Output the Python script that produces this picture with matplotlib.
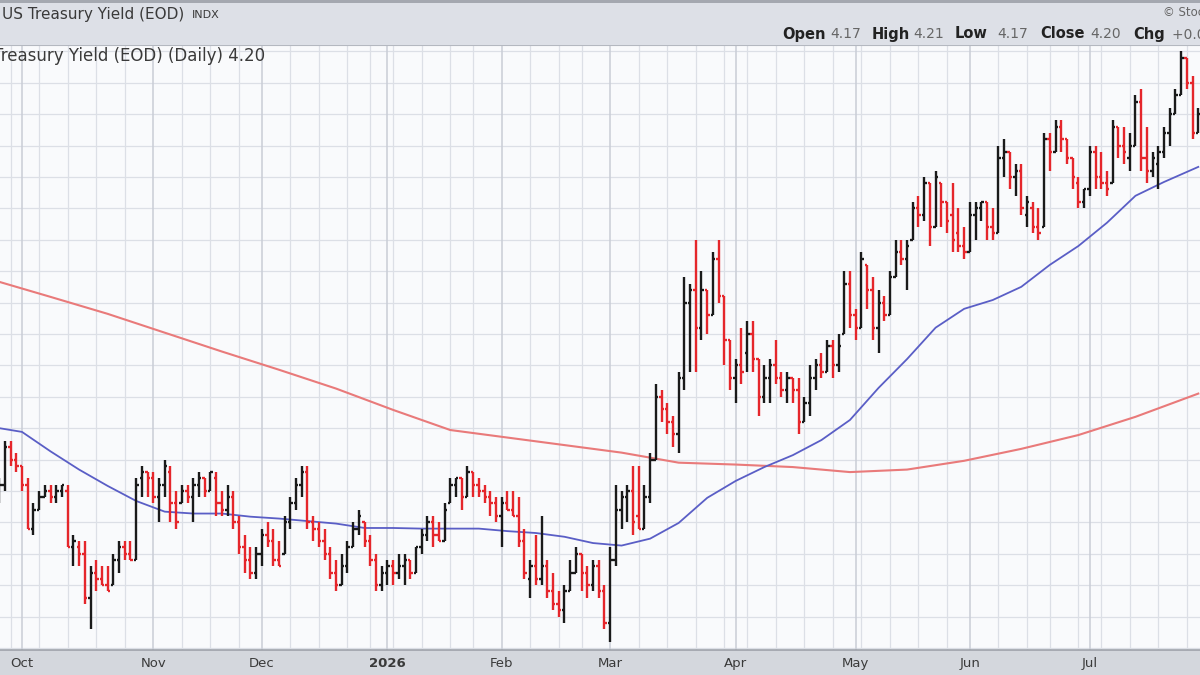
import matplotlib
matplotlib.use("Agg")
import matplotlib.pyplot as plt
from matplotlib.collections import LineCollection
from matplotlib.patches import Rectangle
import pandas as pd

W, H = 1200, 675

HOLIDAYS = ["2025-11-27", "2025-12-25", "2026-01-01", "2026-01-19",
            "2026-02-16", "2026-04-03", "2026-05-25", "2026-06-19", "2026-07-03"]
dates = pd.bdate_range("2025-09-25", "2026-07-29", freq="C", holidays=HOLIDAYS)

# daily OHLC (yield, %)
opens = [
    3.59, 3.61, 3.67, 3.65, 3.64, 3.61, 3.54, 3.57, 3.59, 3.60,
    3.59, 3.60, 3.60, 3.51, 3.51, 3.50, 3.43, 3.47, 3.46, 3.45,
    3.45, 3.49, 3.51, 3.50, 3.49, 3.62, 3.63, 3.62, 3.59, 3.61,
    3.63, 3.58, 3.58, 3.60, 3.59, 3.61, 3.62, 3.60, 3.62, 3.58,
    3.57, 3.59, 3.55, 3.51, 3.49, 3.47, 3.50, 3.53, 3.52, 3.49,
    3.50, 3.55, 3.58, 3.61, 3.63, 3.55, 3.54, 3.52, 3.50, 3.47,
    3.45, 3.48, 3.51, 3.54, 3.55, 3.52, 3.49, 3.45, 3.47, 3.48,
    3.47, 3.48, 3.49, 3.47, 3.51, 3.53, 3.55, 3.53, 3.52, 3.58,
    3.61, 3.62, 3.59, 3.63, 3.61, 3.60, 3.59, 3.58, 3.56, 3.58,
    3.57, 3.56, 3.52, 3.46, 3.48, 3.46, 3.48, 3.44, 3.42, 3.41,
    3.44, 3.47, 3.50, 3.47, 3.45, 3.48, 3.44, 3.39, 3.49, 3.57,
    3.59, 3.60, 3.56, 3.54, 3.59, 3.65, 3.75, 3.73, 3.71, 3.69,
    3.78, 3.90, 3.92, 3.86, 3.92, 3.88, 3.97, 3.91, 3.84, 3.78,
    3.80, 3.82, 3.85, 3.81, 3.75, 3.78, 3.80, 3.78, 3.76, 3.78,
    3.76, 3.71, 3.74, 3.78, 3.80, 3.79, 3.83, 3.80, 3.85, 3.93,
    3.88, 3.86, 3.96, 3.92, 3.86, 3.90, 3.88, 3.94, 3.98, 3.97,
    4.00, 4.05, 4.04, 4.09, 4.02, 4.09, 4.06, 4.04, 4.01, 3.99,
    3.98, 4.04, 4.05, 4.06, 4.02, 4.01, 4.13, 4.14, 4.10, 4.11,
    4.04, 4.05, 4.02, 4.02, 4.16, 4.14, 4.18, 4.16, 4.13, 4.09,
    4.06, 4.08, 4.14, 4.10, 4.09, 4.09, 4.18, 4.15, 4.13, 4.15,
    4.22, 4.13, 4.11, 4.12, 4.14, 4.17, 4.20, 4.23, 4.29, 4.25,
    4.17,
]
highs = [
    3.62, 3.68, 3.68, 3.66, 3.64, 3.62, 3.58, 3.60, 3.61, 3.61,
    3.61, 3.61, 3.61, 3.53, 3.52, 3.52, 3.48, 3.49, 3.48, 3.48,
    3.50, 3.52, 3.52, 3.52, 3.62, 3.64, 3.63, 3.63, 3.62, 3.65,
    3.64, 3.60, 3.61, 3.61, 3.62, 3.63, 3.62, 3.63, 3.63, 3.60,
    3.61, 3.60, 3.56, 3.53, 3.51, 3.51, 3.54, 3.55, 3.54, 3.52,
    3.56, 3.59, 3.62, 3.64, 3.64, 3.56, 3.55, 3.54, 3.51, 3.49,
    3.50, 3.52, 3.55, 3.57, 3.55, 3.53, 3.50, 3.48, 3.49, 3.49,
    3.50, 3.50, 3.49, 3.51, 3.54, 3.56, 3.56, 3.55, 3.58, 3.62,
    3.62, 3.62, 3.64, 3.63, 3.62, 3.61, 3.60, 3.59, 3.59, 3.60,
    3.60, 3.59, 3.54, 3.49, 3.53, 3.56, 3.49, 3.47, 3.44, 3.45,
    3.49, 3.51, 3.50, 3.48, 3.49, 3.49, 3.45, 3.51, 3.61, 3.60,
    3.61, 3.64, 3.64, 3.61, 3.66, 3.77, 3.76, 3.74, 3.72, 3.79,
    3.94, 3.93, 4.00, 3.95, 3.92, 3.98, 4.00, 3.91, 3.84, 3.81,
    3.86, 3.87, 3.87, 3.81, 3.80, 3.81, 3.84, 3.79, 3.79, 3.78,
    3.78, 3.75, 3.80, 3.81, 3.82, 3.84, 3.84, 3.85, 3.95, 3.95,
    3.89, 3.98, 3.96, 3.94, 3.92, 3.91, 3.95, 4.00, 4.00, 4.00,
    4.06, 4.07, 4.10, 4.09, 4.11, 4.09, 4.06, 4.09, 4.05, 4.02,
    4.06, 4.06, 4.06, 4.06, 4.05, 4.15, 4.16, 4.14, 4.12, 4.12,
    4.07, 4.06, 4.05, 4.17, 4.17, 4.19, 4.19, 4.16, 4.13, 4.10,
    4.08, 4.15, 4.15, 4.14, 4.11, 4.19, 4.18, 4.18, 4.17, 4.23,
    4.24, 4.18, 4.14, 4.15, 4.18, 4.21, 4.24, 4.30, 4.29, 4.26,
    4.21,
]
lows = [
    3.58, 3.60, 3.64, 3.63, 3.60, 3.54, 3.53, 3.57, 3.59, 3.58,
    3.58, 3.59, 3.51, 3.48, 3.48, 3.42, 3.38, 3.44, 3.45, 3.44,
    3.45, 3.47, 3.49, 3.49, 3.49, 3.59, 3.59, 3.58, 3.55, 3.59,
    3.55, 3.54, 3.58, 3.58, 3.55, 3.59, 3.59, 3.60, 3.56, 3.56,
    3.56, 3.54, 3.50, 3.47, 3.46, 3.46, 3.48, 3.51, 3.48, 3.48,
    3.50, 3.54, 3.57, 3.59, 3.54, 3.52, 3.51, 3.49, 3.46, 3.44,
    3.45, 3.47, 3.51, 3.53, 3.51, 3.48, 3.44, 3.44, 3.45, 3.45,
    3.46, 3.45, 3.46, 3.47, 3.50, 3.52, 3.51, 3.52, 3.52, 3.58,
    3.59, 3.57, 3.59, 3.59, 3.59, 3.58, 3.56, 3.55, 3.51, 3.57,
    3.56, 3.51, 3.46, 3.43, 3.45, 3.45, 3.43, 3.41, 3.40, 3.39,
    3.44, 3.47, 3.44, 3.43, 3.44, 3.43, 3.38, 3.36, 3.48, 3.54,
    3.55, 3.53, 3.54, 3.54, 3.58, 3.65, 3.71, 3.69, 3.67, 3.66,
    3.76, 3.79, 3.79, 3.84, 3.85, 3.88, 3.90, 3.80, 3.76, 3.74,
    3.77, 3.79, 3.79, 3.72, 3.74, 3.74, 3.77, 3.75, 3.74, 3.74,
    3.69, 3.71, 3.72, 3.76, 3.78, 3.79, 3.78, 3.79, 3.85, 3.86,
    3.84, 3.86, 3.89, 3.84, 3.82, 3.87, 3.88, 3.94, 3.96, 3.92,
    4.00, 4.02, 4.03, 3.99, 4.02, 4.02, 4.01, 3.98, 3.98, 3.97,
    3.98, 4.00, 4.03, 4.00, 4.00, 4.01, 4.10, 4.08, 4.07, 4.04,
    4.02, 4.01, 4.00, 4.02, 4.11, 4.14, 4.14, 4.12, 4.08, 4.05,
    4.05, 4.07, 4.08, 4.08, 4.07, 4.09, 4.13, 4.12, 4.11, 4.15,
    4.11, 4.09, 4.10, 4.08, 4.13, 4.15, 4.20, 4.23, 4.24, 4.16,
    4.17,
]
closes = [
    3.61, 3.67, 3.65, 3.64, 3.61, 3.54, 3.57, 3.59, 3.60, 3.59,
    3.60, 3.61, 3.51, 3.52, 3.50, 3.43, 3.47, 3.46, 3.45, 3.44,
    3.49, 3.51, 3.50, 3.49, 3.61, 3.63, 3.62, 3.59, 3.61, 3.64,
    3.58, 3.55, 3.60, 3.59, 3.61, 3.62, 3.60, 3.63, 3.58, 3.57,
    3.59, 3.55, 3.51, 3.49, 3.47, 3.50, 3.53, 3.52, 3.49, 3.48,
    3.55, 3.58, 3.61, 3.63, 3.55, 3.54, 3.52, 3.50, 3.47, 3.45,
    3.48, 3.51, 3.54, 3.56, 3.52, 3.49, 3.45, 3.47, 3.48, 3.47,
    3.48, 3.49, 3.47, 3.51, 3.53, 3.55, 3.53, 3.52, 3.57, 3.61,
    3.62, 3.59, 3.63, 3.61, 3.60, 3.59, 3.58, 3.56, 3.58, 3.57,
    3.56, 3.52, 3.47, 3.48, 3.46, 3.48, 3.44, 3.42, 3.41, 3.44,
    3.47, 3.50, 3.47, 3.45, 3.48, 3.44, 3.39, 3.49, 3.57, 3.59,
    3.60, 3.55, 3.54, 3.59, 3.65, 3.75, 3.73, 3.71, 3.69, 3.78,
    3.90, 3.92, 3.86, 3.92, 3.88, 3.97, 3.91, 3.84, 3.78, 3.80,
    3.79, 3.85, 3.81, 3.75, 3.78, 3.80, 3.78, 3.76, 3.78, 3.76,
    3.71, 3.74, 3.78, 3.80, 3.79, 3.83, 3.80, 3.83, 3.93, 3.88,
    3.86, 3.97, 3.92, 3.86, 3.90, 3.88, 3.94, 3.98, 3.97, 3.99,
    4.05, 4.04, 4.09, 4.02, 4.10, 4.06, 4.03, 4.00, 3.99, 3.98,
    4.04, 4.05, 4.06, 4.02, 4.01, 4.13, 4.14, 4.10, 4.11, 4.05,
    4.06, 4.02, 4.01, 4.16, 4.14, 4.18, 4.16, 4.13, 4.10, 4.06,
    4.08, 4.14, 4.10, 4.09, 4.08, 4.18, 4.15, 4.14, 4.15, 4.22,
    4.13, 4.11, 4.13, 4.14, 4.17, 4.20, 4.23, 4.29, 4.25, 4.17,
    4.20,
]

# moving averages at bar positions
ma50_pos = [0, 4, 9, 14, 19, 24, 29, 34, 39, 44, 49, 54, 59, 64, 69, 74, 79, 84, 89, 94,
            99, 104, 109, 114, 119, 124, 129, 134, 139, 144, 149, 154, 159, 164, 169, 174,
            179, 184, 189, 194, 199, 204, 210]
ma50 = [3.700, 3.694, 3.663, 3.634, 3.608, 3.584, 3.567, 3.564, 3.564, 3.559, 3.556, 3.552,
        3.548, 3.541, 3.541, 3.540, 3.540, 3.540, 3.536, 3.533, 3.527, 3.517, 3.513, 3.524,
        3.549, 3.589, 3.616, 3.638, 3.657, 3.681, 3.713, 3.764, 3.810, 3.860, 3.890, 3.904,
        3.925, 3.960, 3.990, 4.027, 4.070, 4.092, 4.116]
ma200_pos = [0, 9, 19, 29, 39, 49, 59, 69, 79, 89, 99, 109, 119, 129, 139, 149, 159, 169,
             179, 189, 199, 210]
ma200 = [3.933, 3.909, 3.882, 3.852, 3.822, 3.793, 3.763, 3.729, 3.697, 3.685, 3.673, 3.661,
         3.645, 3.642, 3.638, 3.630, 3.634, 3.648, 3.667, 3.689, 3.718, 3.755]

TITLE = "US Treasury Yield (EOD)"
EXCHANGE = "INDX"
MONTHS = ["Jan", "Feb", "Mar", "Apr", "May", "Jun", "Jul", "Aug", "Sep", "Oct", "Nov", "Dec"]

UP = "#1a1a1a"
DOWN = "#e5262b"
GRID = "#dcdfe6"


def fx(px):
    return px / W


def fy(py):
    return 1 - py / H


fig = plt.figure(figsize=(12, 6.75), dpi=100, facecolor="#d4d7dd")

# header band and frame lines
fig.patches.append(Rectangle((0, fy(45)), 1, 45 / H, transform=fig.transFigure,
                             facecolor="#dde0e7", edgecolor="none", zorder=0))
fig.patches.append(Rectangle((0, fy(3)), 1, 3 / H, transform=fig.transFigure,
                             facecolor="#a4a8b0", edgecolor="none", zorder=0))

ax = fig.add_axes([0, fy(650), 1, (650 - 45) / H])
ax.set_facecolor("#f9fafc")
n = len(closes)
ax.set_xlim(0.15, 210.3)
ax.set_ylim(3.3467, 4.3101)

# horizontal grid every 0.05
lvl = 3.35
while lvl < 4.31:
    ax.axhline(lvl, color=GRID, lw=0.9, zorder=1)
    lvl += 0.05

# weekly and monthly vertical grid
month_pos, month_lab = [], []
for p in range(1, n):
    if dates[p].month != dates[p - 1].month:
        ax.axvline(p, color="#c9cdd6", lw=1.1, zorder=1)
        month_pos.append(p)
        month_lab.append(str(dates[p].year) if dates[p].month == 1 else MONTHS[dates[p].month - 1])
    elif dates[p].weekday() < dates[p - 1].weekday():
        ax.axvline(p, color=GRID, lw=0.9, zorder=1)

# moving averages
ax.plot(ma200_pos, ma200, color="#e97a7a", lw=1.5, zorder=2)
ax.plot(ma50_pos, ma50, color="#5a5ec6", lw=1.3, zorder=2)

# OHLC bars, coloured by close vs previous close
segs, cols = [], []
tick = 0.42
for k in range(n):
    c = UP if k == 0 or closes[k] >= closes[k - 1] else DOWN
    segs.append([(k, lows[k]), (k, highs[k])])
    segs.append([(k - tick, opens[k]), (k, opens[k])])
    segs.append([(k, closes[k]), (k + tick, closes[k])])
    cols += [c, c, c]
ax.add_collection(LineCollection(segs, colors=cols, linewidths=1.7, capstyle="butt", zorder=3))

for s in ax.spines.values():
    s.set_visible(False)
ax.spines["bottom"].set_visible(True)
ax.spines["bottom"].set_color("#9ea2aa")
ax.spines["bottom"].set_linewidth(1.2)
ax.spines["top"].set_visible(True)
ax.spines["top"].set_color("#b4b8c0")

ax.set_yticks([])
ax.set_xticks(month_pos)
ax.set_xticklabels(month_lab)
ax.tick_params(axis="x", length=0, pad=5, labelsize=9.5, labelcolor="#3a3a3a")
for t in ax.get_xticklabels():
    if t.get_text().isdigit():
        t.set_fontweight("bold")

# header texts
fig.text(fx(2), fy(15), TITLE, fontsize=11, color="#3a3a3a", va="center")
fig.text(fx(192), fy(15), EXCHANGE, fontsize=8, color="#3a3a3a", va="center")
fig.text(fx(1163), fy(13), "\u00a9 StockCharts.com", fontsize=8.5, color="#666666", va="center")

chg = closes[-1] - closes[-2]
parts = [
    (782, "Open", True), (830, f"{opens[-1]:.2f}", False),
    (872, "High", True), (913, f"{highs[-1]:.2f}", False),
    (955, "Low", True), (997, f"{lows[-1]:.2f}", False),
    (1040, "Close", True), (1090, f"{closes[-1]:.2f}", False),
    (1133, "Chg", True), (1172, f"{chg:+.2f} ({chg / closes[-2] * 100:+.2f}%)", False),
]
for x, s, bold in parts:
    fig.text(fx(x), fy(34), s, fontsize=10.5 if bold else 10, va="center",
             color="#222222" if bold else "#666666",
             fontweight="bold" if bold else "normal")

# legend line, its start runs off the left edge as in the source
fig.text(fx(265), fy(56), f"{TITLE} (Daily) {closes[-1]:.2f}", fontsize=12,
         color="#3a3a3a", va="center", ha="right")

fig.savefig("out.png", dpi=100, facecolor=fig.get_facecolor())
